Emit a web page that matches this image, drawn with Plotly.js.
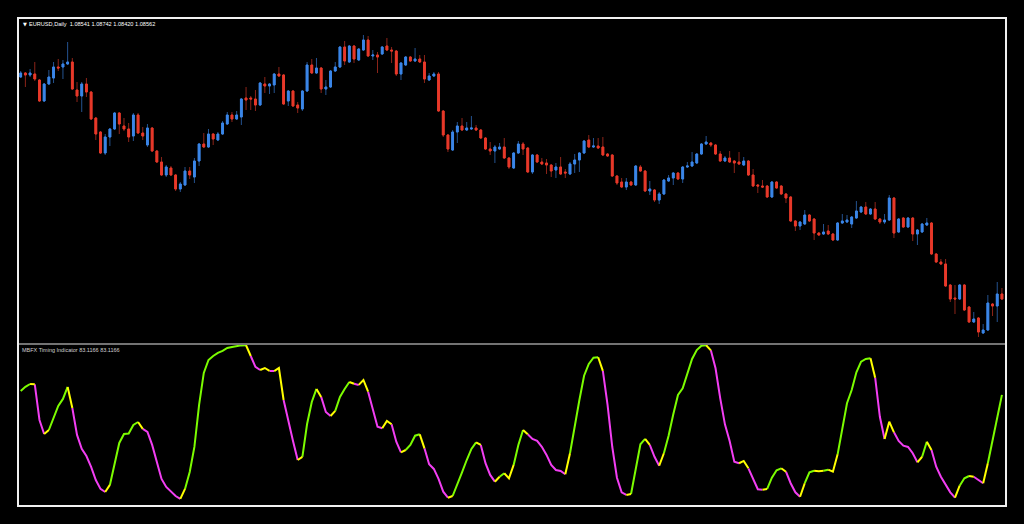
<!DOCTYPE html>
<html><head><meta charset="utf-8">
<script src="https://cdn.plot.ly/plotly-3.0.1.min.js"></script>
<style>html,body{margin:0;padding:0;background:#000;}#chart{width:1024px;height:524px;}</style>
</head><body><div id="chart"></div>
<script>
const symbolLabel = "EURUSD,Daily";
const headerValues = ["1.08541", "1.08742", "1.08420", "1.08562"];
const indicatorLabel = "MBFX Timing Indicator";
const indicatorValues = ["83.1166", "83.1166"];

const open = [
1.1296,1.1304,1.1300,1.1302,1.1290,1.1248,1.1282,1.1294,1.1316,1.1316,
1.1322,1.1326,1.1270,1.1258,1.1282,1.1266,1.1214,1.1186,1.1144,1.1176,
1.1192,1.1224,1.1198,1.1192,1.1178,1.1220,1.1184,1.1160,1.1194,1.1148,
1.1126,1.1100,1.1114,1.1100,1.1072,1.1080,1.1108,1.1096,1.1128,1.1162,
1.1156,1.1182,1.1170,1.1182,1.1202,1.1220,1.1212,1.1216,1.1254,1.1254,
1.1252,1.1240,1.1282,1.1278,1.1280,1.1302,1.1300,1.1248,1.1268,1.1240,
1.1232,1.1268,1.1320,1.1304,1.1314,1.1272,1.1276,1.1308,1.1316,1.1356,
1.1326,1.1358,1.1330,1.1350,1.1370,1.1338,1.1340,1.1342,1.1358,1.1350,
1.1348,1.1302,1.1320,1.1336,1.1328,1.1332,1.1326,1.1290,1.1298,1.1302,
1.1228,1.1180,1.1150,1.1186,1.1198,1.1190,1.1192,1.1194,1.1190,1.1174,
1.1152,1.1148,1.1152,1.1156,1.1134,1.1114,1.1144,1.1162,1.1154,1.1106,
1.1140,1.1126,1.1124,1.1120,1.1110,1.1116,1.1106,1.1102,1.1122,1.1130,
1.1144,1.1170,1.1156,1.1158,1.1156,1.1142,1.1140,1.1098,1.1086,1.1076,
1.1086,1.1080,1.1116,1.1108,1.1068,1.1070,1.1050,1.1062,1.1088,1.1094,
1.1104,1.1092,1.1116,1.1118,1.1124,1.1142,1.1162,1.1164,1.1160,1.1142,
1.1128,1.1134,1.1128,1.1126,1.1120,1.1128,1.1100,1.1080,1.1078,1.1078,
1.1056,1.1086,1.1078,1.1062,1.1056,1.1008,1.0998,1.1002,1.1020,1.1012,
1.0984,1.0982,1.0988,1.0982,1.0970,1.1004,1.1006,1.1002,1.1014,1.1026,
1.1036,1.1022,1.1032,1.1012,1.1006,1.1010,1.1054,1.0986,1.1014,1.0996,
1.1014,1.0982,1.0986,1.1000,1.1004,1.0942,1.0926,1.0922,1.0880,1.0854,
1.0852,1.0880,1.0836,1.0806,1.0814,1.0784,1.0790,1.0842,1.0838,1.0862];

const high = [
1.1308,1.1306,1.1312,1.1326,1.1292,1.1284,1.1310,1.1326,1.1332,1.1330,
1.1366,1.1334,1.1286,1.1286,1.1294,1.1268,1.1216,1.1188,1.1182,1.1194,
1.1226,1.1226,1.1214,1.1204,1.1224,1.1224,1.1196,1.1202,1.1196,1.1150,
1.1136,1.1120,1.1118,1.1102,1.1086,1.1116,1.1116,1.1134,1.1164,1.1184,
1.1192,1.1184,1.1186,1.1208,1.1226,1.1226,1.1228,1.1254,1.1276,1.1258,
1.1270,1.1286,1.1296,1.1284,1.1304,1.1316,1.1302,1.1270,1.1270,1.1246,
1.1270,1.1326,1.1332,1.1334,1.1316,1.1290,1.1310,1.1326,1.1358,1.1368,
1.1360,1.1360,1.1354,1.1380,1.1378,1.1350,1.1346,1.1358,1.1374,1.1356,
1.1350,1.1326,1.1338,1.1338,1.1354,1.1340,1.1340,1.1304,1.1306,1.1306,
1.1230,1.1182,1.1190,1.1206,1.1214,1.1206,1.1218,1.1200,1.1192,1.1176,
1.1166,1.1160,1.1164,1.1174,1.1136,1.1146,1.1168,1.1166,1.1156,1.1142,
1.1142,1.1134,1.1132,1.1122,1.1124,1.1136,1.1112,1.1126,1.1142,1.1146,
1.1170,1.1180,1.1174,1.1174,1.1176,1.1144,1.1142,1.1100,1.1094,1.1094,
1.1088,1.1120,1.1120,1.1110,1.1088,1.1072,1.1066,1.1092,1.1100,1.1106,
1.1106,1.1118,1.1126,1.1146,1.1144,1.1164,1.1178,1.1166,1.1162,1.1148,
1.1138,1.1148,1.1130,1.1146,1.1136,1.1130,1.1112,1.1082,1.1090,1.1080,
1.1088,1.1088,1.1080,1.1064,1.1058,1.1010,1.1008,1.1030,1.1022,1.1014,
1.0986,1.1002,1.1000,1.0984,1.1006,1.1022,1.1020,1.1018,1.1048,1.1038,
1.1046,1.1034,1.1046,1.1014,1.1022,1.1060,1.1056,1.1014,1.1016,1.1016,
1.1016,1.0992,1.1004,1.1014,1.1006,1.0944,1.0932,1.0932,1.0882,1.0880,
1.0882,1.0882,1.0838,1.0826,1.0816,1.0802,1.0860,1.0844,1.0886,1.0874];

const low = [
1.1294,1.1276,1.1296,1.1288,1.1246,1.1246,1.1280,1.1284,1.1308,1.1292,
1.1320,1.1270,1.1246,1.1226,1.1256,1.1210,1.1170,1.1142,1.1140,1.1158,
1.1190,1.1182,1.1188,1.1166,1.1168,1.1182,1.1170,1.1156,1.1146,1.1124,
1.1098,1.1096,1.1098,1.1068,1.1066,1.1078,1.1092,1.1084,1.1118,1.1154,
1.1154,1.1160,1.1168,1.1180,1.1200,1.1206,1.1210,1.1200,1.1230,1.1230,
1.1228,1.1238,1.1264,1.1262,1.1264,1.1296,1.1240,1.1238,1.1236,1.1224,
1.1228,1.1266,1.1302,1.1302,1.1264,1.1260,1.1274,1.1306,1.1314,1.1320,
1.1324,1.1324,1.1328,1.1348,1.1336,1.1330,1.1304,1.1340,1.1348,1.1324,
1.1298,1.1290,1.1318,1.1326,1.1326,1.1324,1.1284,1.1288,1.1296,1.1226,
1.1176,1.1146,1.1148,1.1164,1.1188,1.1188,1.1190,1.1188,1.1172,1.1150,
1.1140,1.1124,1.1150,1.1132,1.1112,1.1112,1.1142,1.1140,1.1104,1.1102,
1.1124,1.1120,1.1102,1.1096,1.1094,1.1100,1.1094,1.1100,1.1104,1.1106,
1.1142,1.1154,1.1154,1.1152,1.1138,1.1136,1.1096,1.1080,1.1074,1.1070,
1.1078,1.1078,1.1106,1.1066,1.1060,1.1046,1.1042,1.1060,1.1086,1.1080,
1.1090,1.1084,1.1114,1.1116,1.1122,1.1140,1.1160,1.1156,1.1140,1.1126,
1.1126,1.1124,1.1104,1.1120,1.1118,1.1098,1.1076,1.1064,1.1074,1.1054,
1.1054,1.1072,1.1060,1.1044,1.1006,1.0988,1.0990,1.1000,1.1006,1.0970,
1.0978,1.0980,1.0980,1.0968,1.0968,1.1002,1.1004,1.0994,1.1012,1.1024,
1.1020,1.1020,1.1010,1.1002,1.1002,1.1008,1.0974,1.0984,1.0994,1.0994,
1.0968,1.0960,1.0984,1.0998,1.0940,1.0924,1.0920,1.0876,1.0846,1.0822,
1.0850,1.0828,1.0804,1.0804,1.0776,1.0782,1.0788,1.0818,1.0806,1.0850];

const close = [
1.1304,1.1300,1.1304,1.1292,1.1248,1.1282,1.1296,1.1316,1.1314,1.1322,
1.1326,1.1272,1.1258,1.1282,1.1266,1.1212,1.1182,1.1144,1.1176,1.1192,
1.1224,1.1202,1.1192,1.1176,1.1220,1.1184,1.1178,1.1194,1.1148,1.1126,
1.1100,1.1116,1.1100,1.1072,1.1082,1.1108,1.1100,1.1128,1.1162,1.1156,
1.1182,1.1172,1.1182,1.1204,1.1220,1.1212,1.1220,1.1252,1.1250,1.1252,
1.1240,1.1284,1.1278,1.1282,1.1302,1.1298,1.1242,1.1268,1.1238,1.1234,
1.1268,1.1320,1.1304,1.1314,1.1272,1.1276,1.1308,1.1316,1.1356,1.1328,
1.1358,1.1332,1.1352,1.1370,1.1338,1.1340,1.1336,1.1356,1.1350,1.1348,
1.1302,1.1324,1.1336,1.1328,1.1332,1.1326,1.1292,1.1298,1.1302,1.1228,
1.1180,1.1152,1.1186,1.1198,1.1190,1.1194,1.1194,1.1190,1.1174,1.1152,
1.1148,1.1156,1.1156,1.1134,1.1116,1.1144,1.1162,1.1152,1.1106,1.1140,
1.1126,1.1122,1.1120,1.1108,1.1116,1.1102,1.1104,1.1122,1.1130,1.1144,
1.1168,1.1156,1.1158,1.1154,1.1140,1.1138,1.1098,1.1084,1.1076,1.1086,
1.1080,1.1118,1.1108,1.1068,1.1072,1.1050,1.1062,1.1090,1.1094,1.1104,
1.1092,1.1116,1.1118,1.1126,1.1142,1.1162,1.1166,1.1160,1.1142,1.1128,
1.1134,1.1126,1.1124,1.1122,1.1128,1.1100,1.1078,1.1078,1.1076,1.1056,
1.1086,1.1074,1.1062,1.1054,1.1008,1.0998,1.1006,1.1020,1.1008,1.0984,
1.0980,1.0986,1.0982,1.0970,1.1004,1.1008,1.1010,1.1016,1.1028,1.1036,
1.1022,1.1032,1.1012,1.1006,1.1010,1.1054,1.0984,1.1012,1.0996,1.1014,
1.0982,1.0990,1.1002,1.1004,1.0942,1.0926,1.0922,1.0878,1.0852,1.0852,
1.0880,1.0830,1.0806,1.0812,1.0786,1.0790,1.0844,1.0838,1.0862,1.0852];

const timing = [
70.9,73.6,75.4,75.2,52.0,42.9,45.5,53.3,61.1,65.7,
73.5,59.8,42.3,33.2,28.6,21.5,13.0,7.2,5.2,9.8,
24.1,37.1,42.9,43.2,48.8,50.7,46.2,44.2,35.8,24.1,
13.7,8.5,5.2,2.6,0.7,7.2,18.2,34.5,61.8,82.6,
91.0,93.6,95.6,96.9,98.8,99.5,100.2,100.5,100.6,93.6,
86.5,84.5,85.8,83.9,83.8,85.8,65.0,50.7,38.4,26.0,
28.0,49.4,63.7,72.2,67.0,57.2,54.6,57.9,67.0,72.2,
76.7,75.6,74.8,78.0,70.4,58.5,47.6,46.6,51.4,49.2,
37.9,31.0,32.5,35.8,41.8,42.7,33.6,23.2,20.2,13.7,
5.4,1.5,2.6,9.8,18.0,26.0,33.2,37.5,35.8,23.9,
16.3,11.9,15.1,17.4,14.1,22.8,35.8,45.5,42.7,39.7,
38.4,34.6,29.3,22.8,19.5,18.9,16.7,30.4,48.3,65.0,
80.8,88.4,92.5,92.8,83.9,61.8,34.6,14.5,5.0,3.3,
3.9,19.5,36.2,39.7,35.8,28.1,22.3,30.4,41.8,55.7,
68.3,72.6,82.4,91.7,97.5,100.3,100.6,97.3,85.6,66.1,
49.2,38.4,24.9,23.9,25.4,20.6,13.5,7.0,6.7,7.2,
14.5,19.3,20.6,18.4,10.9,5.0,2.1,10.9,18.0,19.0,
18.7,19.0,19.7,18.4,29.7,47.6,62.9,71.5,83.0,89.9,
91.7,92.1,79.5,54.1,39.7,50.9,44.0,38.4,35.3,34.5,
30.4,24.5,28.1,37.9,32.5,21.6,15.1,9.8,5.0,1.5,
9.3,14.1,15.6,15.1,13.0,10.9,23.9,38.4,54.1,68.3];

const W = 1024, H = 524;
const px = v => v / W;
const py = v => 1 - v / H;
const bars = open.map((_, i) => i);

const blue = '#3b86e8', red = '#e8392a';
const traces = [];
// full candles with dim wicks
traces.push({
  type: 'candlestick', x: bars, open: open, high: high, low: low, close: close,
  xaxis: 'x', yaxis: 'y', whiskerwidth: 0, hoverinfo: 'skip', showlegend: false,
  increasing: {line: {color: '#24528f', width: 1}, fillcolor: blue},
  decreasing: {line: {color: '#8c2419', width: 1}, fillcolor: red}
});
// bright bodies on top
const bodyTop = open.map((o, i) => Math.max(o, close[i]));
const bodyBot = open.map((o, i) => Math.min(o, close[i]));
traces.push({
  type: 'candlestick', x: bars, open: open, high: bodyTop, low: bodyBot, close: close,
  xaxis: 'x', yaxis: 'y', whiskerwidth: 0, hoverinfo: 'skip', showlegend: false,
  increasing: {line: {color: blue, width: 1}, fillcolor: blue},
  decreasing: {line: {color: red, width: 1}, fillcolor: red}
});

// oscillator, coloured by direction; yellow on turning segments
const colUp = '#7cfc00', colDn = '#f23ef2', colTurn = '#ffff00';
const segData = {};
[colUp, colDn, colTurn].forEach(c => segData[c] = {x: [], y: [], last: -2});
let prevDir = 0;
for (let i = 0; i < timing.length - 1; i++) {
  const dir = timing[i + 1] >= timing[i] ? 1 : -1;
  const c = (i > 0 && dir !== prevDir) ? colTurn : (dir > 0 ? colUp : colDn);
  prevDir = dir;
  const s = segData[c];
  if (s.last !== i) {
    if (s.x.length) { s.x.push(null); s.y.push(null); }
    s.x.push(bars[i]); s.y.push(timing[i]);
  }
  s.x.push(bars[i + 1]); s.y.push(timing[i + 1]);
  s.last = i + 1;
}
[colUp, colDn, colTurn].forEach(c => {
  traces.push({
    type: 'scatter', mode: 'lines', x: segData[c].x, y: segData[c].y,
    xaxis: 'x2', yaxis: 'y2', connectgaps: false, hoverinfo: 'skip', showlegend: false,
    line: {color: c, width: 2}
  });
});

const xDomain = [px(19), px(1004)];
const xRange = [-0.36, 209.44];
const layout = {
  width: W, height: H, margin: {l: 0, r: 0, t: 0, b: 0, pad: 0},
  paper_bgcolor: '#000000', plot_bgcolor: '#000000', showlegend: false,
  boxgap: 0.45,
  xaxis: {domain: xDomain, range: xRange, visible: false, fixedrange: true, rangeslider: {visible: false}},
  yaxis: {domain: [py(343), py(20)], range: [1.0764, 1.1410], visible: false, fixedrange: true},
  xaxis2: {domain: xDomain, range: xRange, visible: false, anchor: 'y2', fixedrange: true},
  yaxis2: {domain: [py(504), py(345)], range: [-2.6, 100.75], visible: false, anchor: 'x2', fixedrange: true},
  shapes: [
    {type: 'rect', xref: 'paper', yref: 'paper', x0: px(18), x1: px(1006), y0: py(506), y1: py(18),
     line: {color: '#f0f0f0', width: 2}, fillcolor: 'rgba(0,0,0,0)'},
    {type: 'line', xref: 'paper', yref: 'paper', x0: px(19), x1: px(1005), y0: py(344), y1: py(344),
     line: {color: '#9a9a9a', width: 1.5}}
  ],
  annotations: [
    {xref: 'paper', yref: 'paper', x: px(20.5), y: py(23.5), xanchor: 'left', yanchor: 'middle',
     text: '▼', showarrow: false, font: {family: 'DejaVu Sans', size: 5, color: '#ffffff'}},
    {xref: 'paper', yref: 'paper', x: px(27), y: py(23.5), xanchor: 'left', yanchor: 'middle',
     text: symbolLabel + '  ' + headerValues.join(' '), showarrow: false,
     font: {family: 'Liberation Sans', size: 5.6, color: '#ffffff'}},
    {xref: 'paper', yref: 'paper', x: px(20), y: py(349.5), xanchor: 'left', yanchor: 'middle',
     text: indicatorLabel + ' ' + indicatorValues.join(' '), showarrow: false,
     font: {family: 'Liberation Sans', size: 5.5, color: '#d0d0d0'}}
  ]
};

Plotly.newPlot('chart', traces, layout, {displayModeBar: false, staticPlot: true});
</script>
</body></html>
